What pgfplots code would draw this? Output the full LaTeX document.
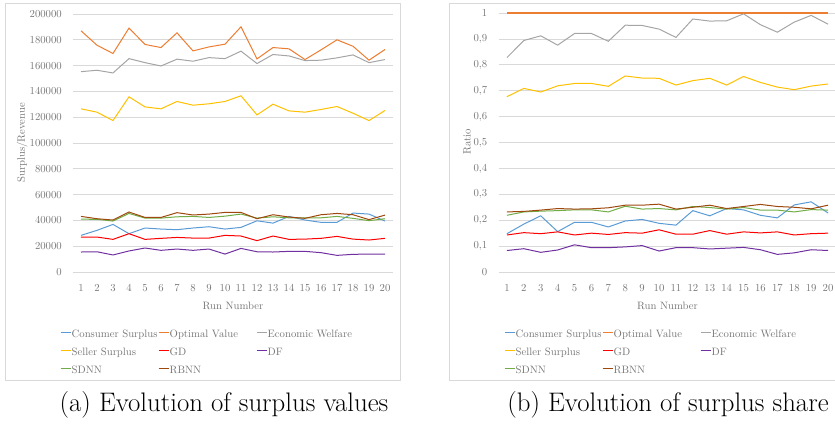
\documentclass[border=0pt]{standalone}
\usepackage{fontspec}
\usepackage{pgfplots}
\usepackage{pgfplotstable}
\pgfplotsset{compat=1.18}
\definecolor{csBlue}{HTML}{5B9BD5}
\definecolor{ovOrange}{HTML}{ED7D31}
\definecolor{ewGray}{HTML}{A5A5A5}
\definecolor{ssYellow}{HTML}{FFC000}
\definecolor{gdRed}{HTML}{FF0000}
\definecolor{dfPurple}{HTML}{7030A0}
\definecolor{sdGreen}{HTML}{70AD47}
\definecolor{rbBrown}{HTML}{9E480E}
\definecolor{txtGray}{RGB}{118,118,118}
\definecolor{gridGray}{HTML}{D9D9D9}

% surplus values per run
\pgfplotstableread{
run cs    ov     ew     ss     gd    df    sdnn  rbnn
1   28400 187000 155300 126500 27100 15500 41000 43100
2   32300 175800 156400 123900 27100 15700 40800 41300
3   36900 169400 154300 117400 25300 13200 39500 40300
4   29700 189100 165400 135800 29700 16300 45400 46500
5   34100 176400 162300 128000 25300 18600 41800 42300
6   33300 174000 159700 126500 26100 16800 41800 42300
7   32800 185400 165000 132200 26800 17800 42800 46000
8   34100 171400 163400 129300 26300 16800 43100 44200
9   35100 174500 166200 130400 26300 17800 42300 44900
10  33300 176600 165400 132200 28400 13900 43300 46200
11  34600 190100 171200 136600 27900 18300 44900 46200
12  39700 165200 161600 121800 24300 15700 41800 41300
13  37900 174000 168600 130100 27900 15500 42800 44400
14  43100 173000 167500 124900 25300 16000 42000 42600
15  40300 164700 163900 123900 25500 16000 42000 41600
16  38500 172200 164200 126000 26100 15000 42000 44400
17  38500 180000 166000 128300 27600 12900 43100 45400
18  45700 175000 168300 123100 25500 13700 41600 44400
19  44900 164200 162300 117400 24800 13900 39800 40600
20  39500 172500 164700 125200 26100 13900 41300 44100
}\valuetable

% surplus shares per run
\pgfplotstableread{
run cs    ov ew    ss    gd    df    sdnn  rbnn
1   0.148 1  0.828 0.677 0.143 0.083 0.219 0.232
2   0.185 1  0.894 0.709 0.152 0.090 0.232 0.234
3   0.217 1  0.912 0.695 0.148 0.076 0.235 0.239
4   0.156 1  0.876 0.719 0.155 0.085 0.237 0.245
5   0.192 1  0.921 0.728 0.143 0.105 0.240 0.243
6   0.192 1  0.921 0.728 0.150 0.094 0.240 0.244
7   0.174 1  0.891 0.717 0.145 0.094 0.232 0.248
8   0.197 1  0.953 0.757 0.152 0.097 0.254 0.258
9   0.203 1  0.952 0.749 0.150 0.102 0.243 0.258
10  0.188 1  0.938 0.748 0.163 0.081 0.245 0.262
11  0.181 1  0.906 0.722 0.146 0.094 0.240 0.243
12  0.237 1  0.977 0.739 0.146 0.094 0.253 0.250
13  0.217 1  0.969 0.748 0.160 0.089 0.249 0.258
14  0.245 1  0.970 0.722 0.146 0.092 0.243 0.245
15  0.240 1  0.997 0.755 0.155 0.095 0.249 0.253
16  0.219 1  0.955 0.732 0.151 0.086 0.239 0.261
17  0.209 1  0.926 0.714 0.155 0.068 0.239 0.253
18  0.259 1  0.965 0.704 0.143 0.074 0.232 0.250
19  0.271 1  0.991 0.718 0.148 0.086 0.241 0.244
20  0.228 1  0.957 0.726 0.150 0.083 0.239 0.258
}\sharetable

\pgfplotsset{
  panel/.style={
    scale only axis,
    font=\fontsize{10.7}{12}\selectfont,
    xmin=0.5,xmax=20.5,
    xtick={1,...,20},
    axis line style={draw=none},
    major tick style={draw=none},
    ymajorgrids,
    axis on top=false,
    grid style={gridGray,line width=0.8pt},
    tick label style={text=txtGray,inner sep=0pt},
    label style={text=txtGray},
    yticklabel shift=11pt,
    xticklabel shift=12pt,
    xlabel={Run Number},
    xlabel style={at={(axis description cs:0.5,-0.132)},anchor=center},
    legend columns=3,
    legend cell align=left,
    legend image code/.code={\draw[#1,line width=1pt] (0pt,2.6pt) -- (10pt,2.6pt);},
    legend style={draw=none,fill=none,text=txtGray,anchor=north west,
      column sep=0pt,row sep=6pt,
      nodes={inner sep=0.5pt,text width=86pt,align=left,
             text height=8pt,text depth=3pt}},
    every axis plot/.append style={line width=1pt,no markers},
  }
}

\begin{document}
\begin{tikzpicture}
\useasboundingbox (0pt,0pt) rectangle (835pt,-426pt);
\draw[gridGray,line width=0.8pt] (5pt,-3pt) rectangle (400pt,-380pt);
\draw[gridGray,line width=0.8pt] (449pt,-3pt) rectangle (845pt,-380pt);

\begin{axis}[panel,
  at={(73pt,-272pt)},anchor=south west,
  width=320pt,height=258pt,
  ymin=0,ymax=200000,
  ytick={0,20000,...,200000},
  scaled y ticks=false,
  yticklabel style={/pgf/number format/.cd,fixed,1000 sep={},assume math mode=true},
  xticklabel style={/pgf/number format/assume math mode=true},
  ylabel={Surplus/Revenue},
  ylabel style={at={(axis description cs:-0.159,0.5)},anchor=center},
  legend style={at={(axis description cs:-0.05,-0.211)}},
]
\addplot[csBlue]   table[x=run,y=cs]   {\valuetable};
\addplot[ovOrange] table[x=run,y=ov]   {\valuetable};
\addplot[ewGray]   table[x=run,y=ew]   {\valuetable};
\addplot[ssYellow] table[x=run,y=ss]   {\valuetable};
\addplot[gdRed]    table[x=run,y=gd]   {\valuetable};
\addplot[dfPurple] table[x=run,y=df]   {\valuetable};
\addplot[sdGreen]  table[x=run,y=sdnn] {\valuetable};
\addplot[rbBrown]  table[x=run,y=rbnn] {\valuetable};
\legend{Consumer Surplus,Optimal Value,Economic Welfare,Seller Surplus,GD,DF,SDNN,RBNN}
\end{axis}

\begin{axis}[panel,
  at={(498.5pt,-272pt)},anchor=south west,
  width=338pt,height=260pt,
  ymin=0,ymax=1.004,
  ytick={0,0.1,0.2,0.3,0.4,0.5,0.6,0.7,0.8,0.9,1},
  yticklabel style={/pgf/number format/.cd,fixed,use comma,assume math mode=true},
  xticklabel style={/pgf/number format/assume math mode=true},
  ylabel={Ratio},
  ylabel style={at={(axis description cs:-0.093,0.5)},anchor=center},
  legend style={at={(axis description cs:0.0074,-0.2096)}},
]
\addplot[csBlue]   table[x=run,y=cs]   {\sharetable};
\addplot[ovOrange,line width=1.2pt] table[x=run,y=ov]   {\sharetable};
\addplot[ewGray]   table[x=run,y=ew]   {\sharetable};
\addplot[ssYellow] table[x=run,y=ss]   {\sharetable};
\addplot[gdRed]    table[x=run,y=gd]   {\sharetable};
\addplot[dfPurple] table[x=run,y=df]   {\sharetable};
\addplot[sdGreen]  table[x=run,y=sdnn] {\sharetable};
\addplot[rbBrown]  table[x=run,y=rbnn] {\sharetable};
\legend{Consumer Surplus,Optimal Value,Economic Welfare,Seller Surplus,GD,DF,SDNN,RBNN}
\end{axis}

\node[font=\fontsize{26.8}{30}\selectfont] at (224pt,-405pt) {(a) Evolution of surplus values};
\node[font=\fontsize{26.8}{30}\selectfont] at (668pt,-405pt) {(b) Evolution of surplus share};
\end{tikzpicture}
\end{document}
